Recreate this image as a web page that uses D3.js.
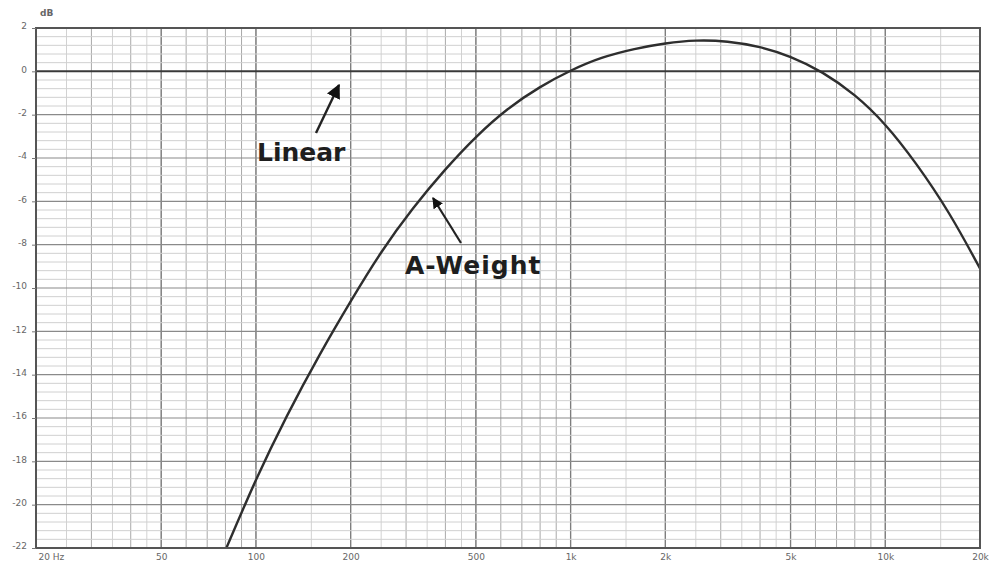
<!DOCTYPE html>
<html>
<head>
<meta charset="utf-8">
<script src="https://cdn.jsdelivr.net/npm/d3@7"></script>
<style>
  body { margin: 0; background: #fff; }
  svg { display: block; }
</style>
</head>
<body>
<svg id="chart"></svg>
<script>
// A-weighting response (Hz, dB)
const freqs = [80, 100, 125, 160, 200, 250, 315, 400, 500, 630, 800, 1000, 1250,
    1600, 2000, 2500, 3150, 4000, 5000, 6300, 8000, 10000, 12500, 16000, 20000];
const aWeight = [-22.1, -18.8, -15.9, -13.0, -10.6, -8.3, -6.3, -4.5, -3.0, -1.7, -0.7, 0.05, 0.65,
    1.05, 1.3, 1.45, 1.4, 1.15, 0.7, 0.0, -1.05, -2.4, -4.2, -6.5, -9.1];
const linearLevel = 0;

const xTicks = [20, 50, 100, 200, 500, 1000, 2000, 5000, 10000, 20000];
const xTickLabels = ['20 Hz', '50', '100', '200', '500', '1k', '2k', '5k', '10k', '20k'];
const yTicks = [2, 0, -2, -4, -6, -8, -10, -12, -14, -16, -18, -20, -22];

const width = 999, height = 566;
const margin = {top: 28, right: 19, bottom: 18, left: 36};
const innerW = width - margin.left - margin.right;
const innerH = height - margin.top - margin.bottom;

const svg = d3.select('#chart')
    .attr('width', width)
    .attr('height', height);

const x = d3.scaleLog().domain([20, 20000]).range([0, innerW]);
const y = d3.scaleLinear().domain([-22, 2]).range([innerH, 0]);

const g = svg.append('g')
    .attr('transform', `translate(${margin.left},${margin.top})`);

svg.append('defs').append('clipPath').attr('id', 'plot-clip')
    .append('rect').attr('width', innerW).attr('height', innerH);

// vertical grid: minor lines at sub-decade steps, major at labelled ticks
let minorX = [];
[10, 100, 1000, 10000].forEach(dec => {
    [1, 1.5, 2, 2.5, 3, 3.5, 4, 4.5, 5, 6, 7, 8, 9].forEach(k => {
        let f = k * dec;
        if (f > 20 && f < 20000) minorX.push(f);
    });
});
g.append('g').selectAll('line')
    .data(minorX)
    .join('line')
    .attr('x1', d => x(d)).attr('x2', d => x(d))
    .attr('y1', 0).attr('y2', innerH)
    .attr('stroke', d => (String(d).match(/^[1-9]0*$/) ? '#a9a9a9' : '#d2d2d2'))
    .attr('stroke-width', 1);

g.append('g').selectAll('line')
    .data(xTicks.slice(1, -1))
    .join('line')
    .attr('x1', d => x(d)).attr('x2', d => x(d))
    .attr('y1', 0).attr('y2', innerH)
    .attr('stroke', '#7d7d7d')
    .attr('stroke-width', 1.3);

// horizontal grid: minor every 0.4 dB, major every 2 dB
let minorY = d3.range(-22, 2.001, 0.4).filter(v => Math.abs(v / 2 - Math.round(v / 2)) > 0.01);
g.append('g').selectAll('line')
    .data(minorY)
    .join('line')
    .attr('x1', 0).attr('x2', innerW)
    .attr('y1', d => y(d)).attr('y2', d => y(d))
    .attr('stroke', '#d0d0d0')
    .attr('stroke-width', 1);

g.append('g').selectAll('line')
    .data(yTicks.filter(v => v !== 2 && v !== -22 && v !== linearLevel))
    .join('line')
    .attr('x1', 0).attr('x2', innerW)
    .attr('y1', d => y(d)).attr('y2', d => y(d))
    .attr('stroke', '#8a8a8a')
    .attr('stroke-width', 1.2);

// linear (flat) response
g.append('line')
    .attr('x1', 0).attr('x2', innerW)
    .attr('y1', y(linearLevel)).attr('y2', y(linearLevel))
    .attr('stroke', '#3a3a3a')
    .attr('stroke-width', 2);

// A-weight curve
const line = d3.line()
    .x(d => x(d[0]))
    .y(d => y(d[1]))
    .curve(d3.curveBasis);

g.append('path')
    .datum(freqs.map((f, i) => [f, aWeight[i]]))
    .attr('clip-path', 'url(#plot-clip)')
    .attr('d', line)
    .attr('fill', 'none')
    .attr('stroke', '#2e2e2e')
    .attr('stroke-width', 2.4);

// frame
g.append('rect')
    .attr('width', innerW).attr('height', innerH)
    .attr('fill', 'none')
    .attr('stroke', '#555')
    .attr('stroke-width', 2);

// axes
const xAxis = d3.axisBottom(x)
    .tickValues(xTicks)
    .tickFormat((d, i) => xTickLabels[i])
    .tickSize(0)
    .tickPadding(6);
const xg = g.append('g')
    .attr('transform', `translate(0,${innerH})`)
    .call(xAxis);
xg.select('.domain').remove();
xg.selectAll('text')
    .attr('fill', '#666')
    .style('font-family', 'DejaVu Sans, sans-serif')
    .style('font-size', '9px')
    .attr('text-anchor', (d, i) => (i === 0 ? 'start' : 'middle'))
    .attr('dx', (d, i) => (i === 0 ? '2px' : 0));

const yAxis = d3.axisLeft(y)
    .tickValues(yTicks)
    .tickFormat(d => (d < 0 ? '-' + Math.abs(d) : d))
    .tickSize(4)
    .tickPadding(5);
const yg = g.append('g').call(yAxis);
yg.select('.domain').remove();
yg.selectAll('.tick line').attr('stroke', '#777');
yg.selectAll('text')
    .attr('fill', '#666')
    .attr('dy', '0.1em')
    .style('font-family', 'DejaVu Sans, sans-serif')
    .style('font-size', '9px');

svg.append('text')
    .attr('x', 40).attr('y', 16)
    .attr('fill', '#666')
    .style('font-family', 'DejaVu Sans, sans-serif')
    .style('font-size', '9px')
    .style('font-weight', 'bold')
    .text('dB');

// annotations
const defs = svg.select('defs');
defs.append('marker')
    .attr('id', 'arrow-big')
    .attr('viewBox', '0 0 10 10')
    .attr('refX', 9).attr('refY', 5)
    .attr('markerWidth', 6).attr('markerHeight', 6)
    .attr('markerUnits', 'strokeWidth')
    .attr('orient', 'auto')
    .append('path').attr('d', 'M0,0 L10,5 L0,10 z').attr('fill', '#111');
defs.append('marker')
    .attr('id', 'arrow-small')
    .attr('viewBox', '0 0 10 10')
    .attr('refX', 9).attr('refY', 5)
    .attr('markerWidth', 5).attr('markerHeight', 5)
    .attr('markerUnits', 'strokeWidth')
    .attr('orient', 'auto')
    .append('path').attr('d', 'M0,0 L10,5 L0,10 z').attr('fill', '#111');

svg.append('line')
    .attr('x1', 316).attr('y1', 133)
    .attr('x2', 339).attr('y2', 85)
    .attr('stroke', '#222').attr('stroke-width', 2.4)
    .attr('marker-end', 'url(#arrow-big)');

svg.append('line')
    .attr('x1', 461).attr('y1', 243)
    .attr('x2', 433).attr('y2', 198)
    .attr('stroke', '#222').attr('stroke-width', 2.2)
    .attr('marker-end', 'url(#arrow-small)');

svg.append('text')
    .attr('x', 257).attr('y', 161)
    .attr('fill', '#1e1e1e')
    .style('font-family', 'DejaVu Sans, sans-serif')
    .style('font-size', '25px')
    .style('font-weight', 'bold')
    .text('Linear');

svg.append('text')
    .attr('x', 405).attr('y', 274)
    .attr('fill', '#1e1e1e')
    .style('font-family', 'DejaVu Sans, sans-serif')
    .style('font-size', '25px')
    .style('font-weight', 'bold')
    .style('letter-spacing', '1px')
    .text('A-Weight');
</script>
</body>
</html>
